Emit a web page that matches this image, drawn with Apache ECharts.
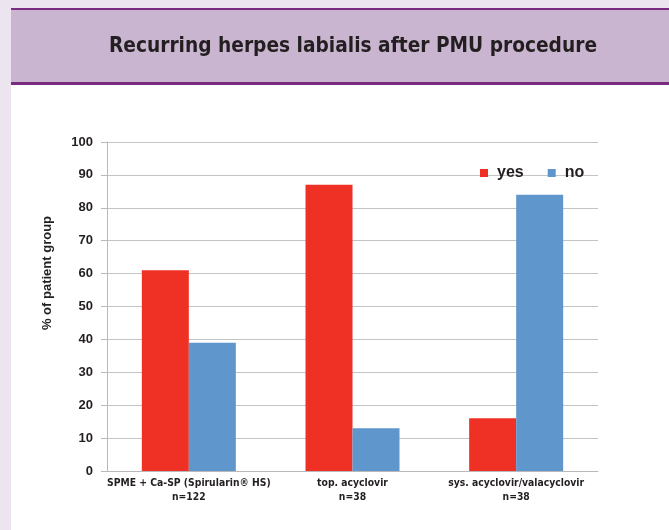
<!DOCTYPE html>
<html><head><meta charset="utf-8">
<script src="https://cdn.jsdelivr.net/npm/echarts@6/dist/echarts.min.js"></script>
<style>html,body{margin:0;padding:0;background:#fff}#c{width:669px;height:530px}</style>
</head><body><div id="c"></div>
<script>
const categories = ['SPME + Ca-SP (Spirularin® HS)\nn=122', 'top. acyclovir\nn=38', 'sys. acyclovir/valacyclovir\nn=38'];
const yesValues = [61, 87, 16];
const noValues = [39, 13, 84];
const seriesNames = ['yes', 'no'];
const yTicks = {min: 0, max: 100, interval: 10};

const condensed = '"Liberation Sans Narrow", "DejaVu Sans Condensed", "Roboto Condensed", sans-serif';
const arial = 'Arial, "Liberation Sans", sans-serif';
const chart = echarts.init(document.getElementById('c'), null, {renderer: 'canvas'});
chart.setOption({
  backgroundColor: '#fff',
  animation: false,
  title: {
    text: 'Recurring herpes labialis after PMU procedure',
    left: 348, top: 31, textAlign: 'center',
    textStyle: {fontFamily: condensed, fontWeight: 'bold', fontSize: 20.7, color: '#231f20'}
  },
  graphic: [
    {type: 'rect', z: -10, shape: {x: 0, y: 0, width: 669, height: 8}, style: {fill: '#ece4ee'}},
    {type: 'rect', z: -10, shape: {x: 0, y: 0, width: 11, height: 530}, style: {fill: '#ece4ee'}},
    {type: 'rect', z: -9, shape: {x: 11, y: 8, width: 658, height: 77}, style: {fill: '#cab5d1'}},
    {type: 'rect', z: -8, shape: {x: 11, y: 8, width: 658, height: 2}, style: {fill: '#7a2a7f'}},
    {type: 'rect', z: -8, shape: {x: 11, y: 82, width: 658, height: 3}, style: {fill: '#7a2a7f'}},
    {type: 'text', x: 47, y: 273, rotation: Math.PI / 2,
     style: {text: '% of patient group', fontFamily: arial, fontWeight: 'bold', fontSize: 13, fill: '#231f20', textAlign: 'center', textVerticalAlign: 'middle'}}
  ],
  legend: {
    data: seriesNames, left: 475, top: 160, icon: 'rect', itemWidth: 8, itemHeight: 8, itemGap: 24,
    textStyle: {fontFamily: arial, fontWeight: 'bold', fontSize: 16, color: '#231f20', padding: [0, 0, 0, 4]}
  },
  grid: {left: 107, right: 71, top: 142, bottom: 59, containLabel: false},
  xAxis: {
    type: 'category', data: categories,
    axisLine: {lineStyle: {color: '#b9b9b9', width: 1}},
    axisTick: {show: false},
    axisLabel: {fontFamily: condensed, fontWeight: 'bold', fontSize: 10.3, color: '#231f20', lineHeight: 13.5, margin: 6, interval: 0}
  },
  yAxis: {
    type: 'value', min: yTicks.min, max: yTicks.max, interval: yTicks.interval,
    axisLine: {show: true, lineStyle: {color: '#b9b9b9'}},
    axisTick: {show: true, length: 6, lineStyle: {color: '#b9b9b9'}},
    axisLabel: {fontFamily: arial, fontWeight: 'bold', fontSize: 13, color: '#231f20', margin: 14},
    splitLine: {lineStyle: {color: '#c4c4c4', width: 1}}
  },
  series: [
    {name: seriesNames[0], type: 'bar', data: yesValues, barWidth: 47, barGap: '0%', itemStyle: {color: '#ee3124'}},
    {name: seriesNames[1], type: 'bar', data: noValues, barWidth: 47, barGap: '0%', itemStyle: {color: '#5f96cc'}}
  ]
});
</script></body></html>
